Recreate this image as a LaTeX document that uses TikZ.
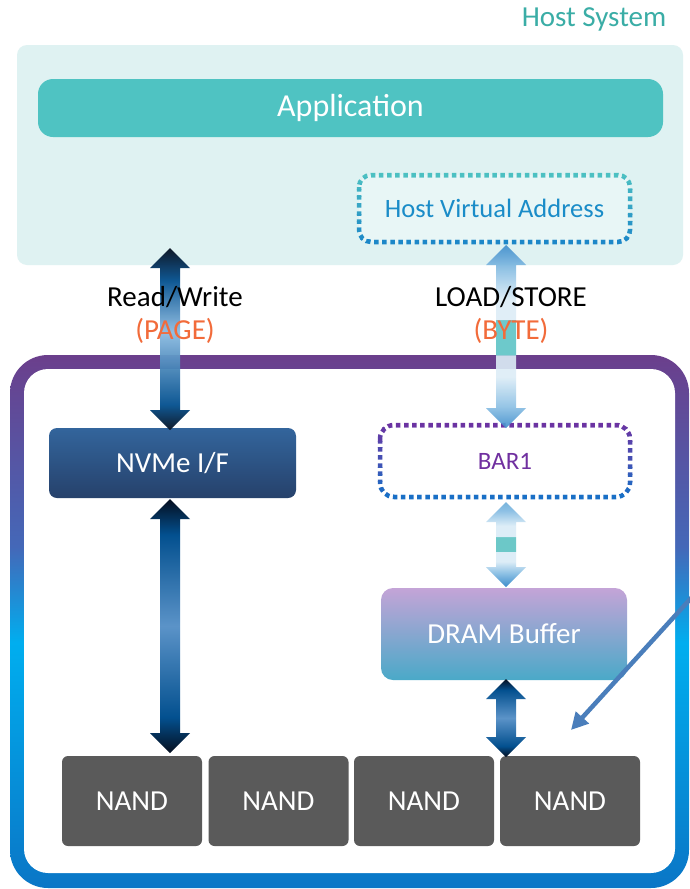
\documentclass[tikz,border=0pt]{standalone}
\usepackage{fontspec}
\setmainfont{Carlito}
\usetikzlibrary{arrows.meta}

\definecolor{hostbg}{HTML}{DFF2F2}
\definecolor{hvafill}{HTML}{E8F6F6}
\definecolor{hostteal}{HTML}{3AADA6}
\definecolor{appteal}{HTML}{4FC3C2}
\definecolor{hvablue}{HTML}{1A8CC8}
\definecolor{dotteal}{HTML}{4FC3C2}
\definecolor{dotblue}{HTML}{1A84C8}
\definecolor{barpurple}{HTML}{7030A0}
\definecolor{barblue}{HTML}{1572C8}
\definecolor{nvmetop}{HTML}{33659C}
\definecolor{nvmebot}{HTML}{26416B}
\definecolor{dramtop}{HTML}{C4A4D7}
\definecolor{drambot}{HTML}{4AA9C8}
\definecolor{nandgray}{HTML}{5A5A5A}
\definecolor{pageorange}{HTML}{F26B3A}
\definecolor{pointer}{HTML}{4A7EBB}
% frame colours
\definecolor{framepurple}{HTML}{6B3F8C}
\definecolor{framemid}{HTML}{4468B8}
\definecolor{framecyan}{HTML}{00AEEF}
\definecolor{framebot}{HTML}{0A76C6}
% dark block arrows
\definecolor{tipdark}{HTML}{050E1E}
\definecolor{arrowblue}{HTML}{03508F}
\definecolor{arrowpale}{HTML}{8DBCE2}
\definecolor{arrowmid}{HTML}{5B93C8}
% light block arrows
\definecolor{lsblue}{HTML}{3C8CCB}
\definecolor{lsmid}{HTML}{8CC0E4}
\definecolor{lspale}{HTML}{DDEDF7}
\definecolor{lsteal}{HTML}{5EC4C6}
\definecolor{bdtop}{HTML}{78B4DC}
\definecolor{bdteal}{HTML}{6CC8C8}

\pgfdeclareverticalshading{frameshade}{100bp}{color(0bp)=(framebot); color(25bp)=(framebot); color(48bp)=(framecyan); color(57bp)=(framemid); color(75bp)=(framepurple); color(100bp)=(framepurple)}
\pgfdeclareverticalshading{rwshade}{100bp}{color(0bp)=(tipdark); color(25bp)=(tipdark); color(32bp)=(arrowblue); color(52bp)=(arrowpale); color(66bp)=(arrowblue); color(75bp)=(tipdark); color(100bp)=(tipdark)}
\pgfdeclareverticalshading{nvshade}{100bp}{color(0bp)=(tipdark); color(25bp)=(tipdark); color(32bp)=(arrowblue); color(50bp)=(arrowmid); color(68bp)=(arrowblue); color(75bp)=(tipdark); color(100bp)=(tipdark)}
\pgfdeclareverticalshading{lsshade}{100bp}{color(0bp)=(lsblue); color(25bp)=(lsblue); color(31bp)=(lsmid); color(39bp)=(lspale); color(44.9bp)=(lspale); color(45bp)=(lsteal); color(54.5bp)=(lsteal); color(54.6bp)=(lspale); color(60bp)=(lspale); color(68bp)=(lsmid); color(75bp)=(lsblue); color(100bp)=(lsblue)}
\pgfdeclareverticalshading{bdshade}{100bp}{color(0bp)=(lsblue); color(25bp)=(lsblue); color(33bp)=(lsmid); color(40bp)=(lspale); color(46bp)=(lspale); color(46.1bp)=(bdteal); color(54.4bp)=(bdteal); color(54.5bp)=(lspale); color(61bp)=(lspale); color(70bp)=(lsmid); color(75bp)=(bdtop); color(100bp)=(bdtop)}

% double-headed block arrow: x, top tip y, bottom tip y, style
\newcommand\blockarrow[4]{%
  \path[#4] ({#1-10},{#2+20}) -- ({#1-20},{#2+20}) -- (#1,#2) -- ({#1+20},{#2+20})
    -- ({#1+10},{#2+20}) -- ({#1+10},{#3-20}) -- ({#1+20},{#3-20}) -- (#1,#3)
    -- ({#1-20},{#3-20}) -- ({#1-10},{#3-20}) -- cycle;}

% dotted rounded outline whose colour runs from top to bottom:
% x1, y1, x2, y2, corner radius, top colour, bottom colour
\newcommand\gradoutline[7]{%
  \foreach \k in {0,...,11}{%
    \pgfmathsetmacro\ya{#2-4+(#4-#2+8)*\k/12}%
    \pgfmathsetmacro\yb{#2-4+(#4-#2+8)*(\k+1)/12}%
    \pgfmathtruncatemacro\pc{100-100*(\k+0.5)/12}%
    \begin{scope}
      \clip ({#1-6},\ya) rectangle ({#3+6},\yb);
      \draw[dotline, draw=#6!\pc!#7, rounded corners=#5] (#1,#2) rectangle (#3,#4);
    \end{scope}}}

\begin{document}
\begin{tikzpicture}[x=1pt,y=-1pt,
  txt/.style={font=\fontsize{29}{34}\selectfont, inner sep=0pt},
  boxtxt/.style={txt, text=white},
  dotline/.style={line width=4.5pt, dash pattern=on 4.5pt off 3.6pt, line cap=butt},
  nandbox/.style={boxtxt, fill=nandgray, rounded corners=6pt, minimum width=140pt, minimum height=90pt}]
\useasboundingbox (0,0) rectangle (689,889);
\fill[white] (0,0) rectangle (689,889);

% host side
\node[fill=hostbg, rounded corners=10pt, minimum width=666pt, minimum height=220pt] (host) at (350,155) {};
\node[txt, text=hostteal] (hostlbl) at (594,19) {Host System};
\node[boxtxt, font=\fontsize{32}{36}\selectfont, fill=appteal, rounded corners=15pt,
      minimum width=625pt, minimum height=58pt] (app) at (350.5,108) {Application};
\node[txt, font=\fontsize{26.5}{30}\selectfont, text=hvablue, fill=hvafill, rounded corners=12pt,
      minimum width=271pt, minimum height=67pt] (hva) at (494.5,208.5) {Host Virtual Address};
\gradoutline{359}{175}{630}{242}{12pt}{dotteal}{dotblue}

% device frame
\path[shading=frameshade, rounded corners=38pt] (10,355) rectangle (689,888);
\fill[white, rounded corners=24pt] (24,369) rectangle (675,873);

% device blocks
\node[boxtxt, top color=nvmetop, bottom color=nvmebot, rounded corners=8pt,
      minimum width=247pt, minimum height=70pt] (nvme) at (172.5,463) {NVMe I/F};
\node[txt, font=\fontsize{25}{30}\selectfont, text=barpurple, minimum width=250pt, minimum height=72pt] (bar) at (505,461) {BAR1};
\gradoutline{380}{425}{630}{497}{14pt}{barpurple}{barblue}
\node[boxtxt, top color=dramtop, bottom color=drambot, rounded corners=12pt,
      minimum width=246pt, minimum height=92pt] (dram) at (504,634) {DRAM Buffer};
\node[nandbox] (n1) at (132,801) {NAND};
\node[nandbox] (n2) at (278.5,801) {NAND};
\node[nandbox] (n3) at (424,801) {NAND};
\node[nandbox] (n4) at (570,801) {NAND};

% access paths
\blockarrow{170}{248}{430}{shading=rwshade, fill opacity=0.95}
\blockarrow{170}{499}{753}{shading=nvshade}
\blockarrow{506}{245}{428}{shading=lsshade, fill opacity=0.9}
\blockarrow{506}{502}{587}{shading=bdshade}
\blockarrow{506}{679}{757}{shading=nvshade}

\node[txt] (rw) at (175,297) {Read/Write};
\node[txt, text=pageorange] (page) at (175,331) {(PAGE)};
\node[txt] (ls) at (511,297) {LOAD/STORE};
\node[txt, text=pageorange] (byte) at (511,331) {(BYTE)};

% pointer into the NAND array
\coordinate (ptrstart) at (693,596);
\coordinate (ptrend) at (571,730);
\draw[pointer, line width=4.5pt, -{Triangle[length=17pt,width=17pt]}] (ptrstart) -- (ptrend);
\end{tikzpicture}
\end{document}
